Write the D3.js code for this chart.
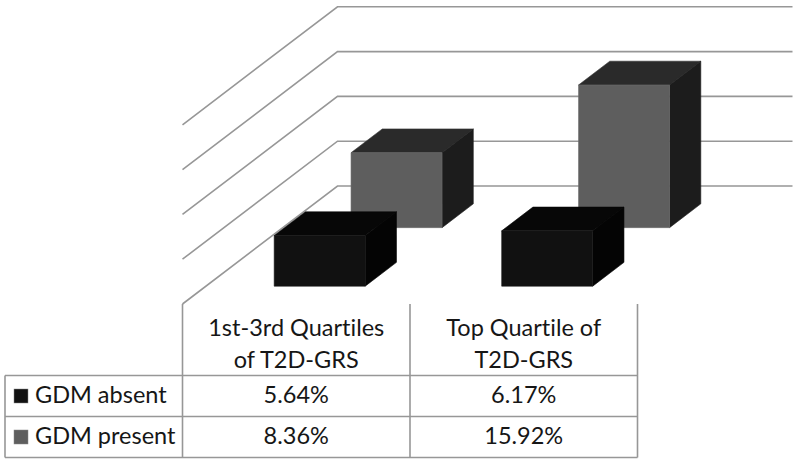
<!DOCTYPE html>
<html>
<head>
<meta charset="utf-8">
<script src="https://cdnjs.cloudflare.com/ajax/libs/d3/7.8.5/d3.min.js"></script>
<style>
html,body{margin:0;padding:0;background:#fff;overflow:hidden}
svg{display:block}
text{font-family:Lato,"Open Sans",sans-serif;fill:#161616;font-variant-ligatures:none}
</style>
</head>
<body>
<svg id="c" width="800" height="464"></svg>
<script>
const categories = [["1st-3rd Quartiles","of T2D-GRS"],["Top Quartile of","T2D-GRS"]];
const seriesNames = ["GDM absent","GDM present"];
const gdmAbsent = [5.64,6.17];
const gdmPresent = [8.36,15.92];
const ticks = [0,5,10,15,20];
const seriesValues = [gdmAbsent,gdmPresent];
const frontColors = ["#111111","#5e5e5e"];
const topColors = ["#070707","#2a2a2a"];
const sideColors = ["#040404","#1c1c1c"];
const gridColor = "#979797";

const svg = d3.select("#c");
const W = {x0:182.5,x1:637.5,y0:304,dx:155,dy:-118};

const catX = d3.scaleBand().domain([0,1]).range([W.x0,W.x1]);
const barX = d3.scaleLinear().domain([0,1]).range([0,catX.bandwidth()]);
const depth = d3.scaleBand().domain([0,1]).range([0,1]).paddingInner(.593).paddingOuter(.305);
const yV = d3.scaleLinear().domain([0,20]).range([0,-179.2]);
const proj = (x,d,v)=>[x+W.dx*d, W.y0+W.dy*d+yV(v)];
const line = d3.line();

// gridlines
svg.append("g").selectAll("path").data(ticks).join("path")
  .attr("fill","none").attr("stroke",gridColor).attr("stroke-width",1.6)
  .attr("d",t=>line([proj(W.x0,0,t),proj(W.x0,1,t),proj(W.x1,1,t)]));

// bars (rear series first)
const bars = [];
[1,0].forEach(s=>seriesValues[s].forEach((v,c)=>bars.push({s,c,v})));
const g = svg.append("g");
bars.forEach(b=>{
  const xa = catX(b.c)+barX(.3), xb = catX(b.c)+barX(.7);
  const d0 = depth(b.s), d1 = d0+depth.bandwidth();
  const face = (pts,fill)=>g.append("path").attr("d",line(pts)+"Z").attr("fill",fill)
    .attr("stroke",d3.color(fill).brighter(b.s?0.4:0.8)).attr("stroke-width",.6);
  face([proj(xa,d0,b.v),proj(xb,d0,b.v),proj(xb,d1,b.v),proj(xa,d1,b.v)],topColors[b.s]);
  face([proj(xb,d0,0),proj(xb,d0,b.v),proj(xb,d1,b.v),proj(xb,d1,0)],sideColors[b.s]);
  face([proj(xa,d0,0),proj(xb,d0,0),proj(xb,d0,b.v),proj(xa,d0,b.v)],frontColors[b.s]);
});

// data table
const rowY = [375.5,416.5,457.5];
const tableLeft = 5;
const colX = [W.x0,catX(1),W.x1];
const tl = svg.append("g").attr("stroke",gridColor).attr("stroke-width",1.6);
rowY.forEach(y=>tl.append("line").attr("x1",tableLeft).attr("x2",W.x1).attr("y1",y).attr("y2",y));
colX.forEach(x=>tl.append("line").attr("x1",x).attr("x2",x).attr("y1",W.y0).attr("y2",rowY[2]));
tl.append("line").attr("x1",tableLeft).attr("x2",tableLeft).attr("y1",rowY[0]).attr("y2",rowY[2]);

const fs = 23.5;
const centers = [0,1].map(c=>catX(c)+catX.bandwidth()/2);
const baseHead = [336,368];
categories.forEach((lines,c)=>lines.forEach((t,i)=>
  svg.append("text").attr("x",centers[c]).attr("y",baseHead[i]).attr("text-anchor","middle").attr("font-size",fs).text(t)));
const baseRow = [402.5,443.5];
seriesNames.forEach((n,s)=>{
  svg.append("rect").attr("x",14).attr("y",baseRow[s]-13.5).attr("width",14).attr("height",14)
    .attr("fill",frontColors[s]).attr("stroke","#888").attr("stroke-width",.5);
  svg.append("text").attr("x",35).attr("y",baseRow[s]).attr("font-size",fs).text(n);
  seriesValues[s].forEach((v,c)=>
    svg.append("text").attr("x",centers[c]).attr("y",baseRow[s]).attr("text-anchor","middle").attr("font-size",fs).text(d3.format(".2f")(v)+"%"));
});
</script>
</body>
</html>
